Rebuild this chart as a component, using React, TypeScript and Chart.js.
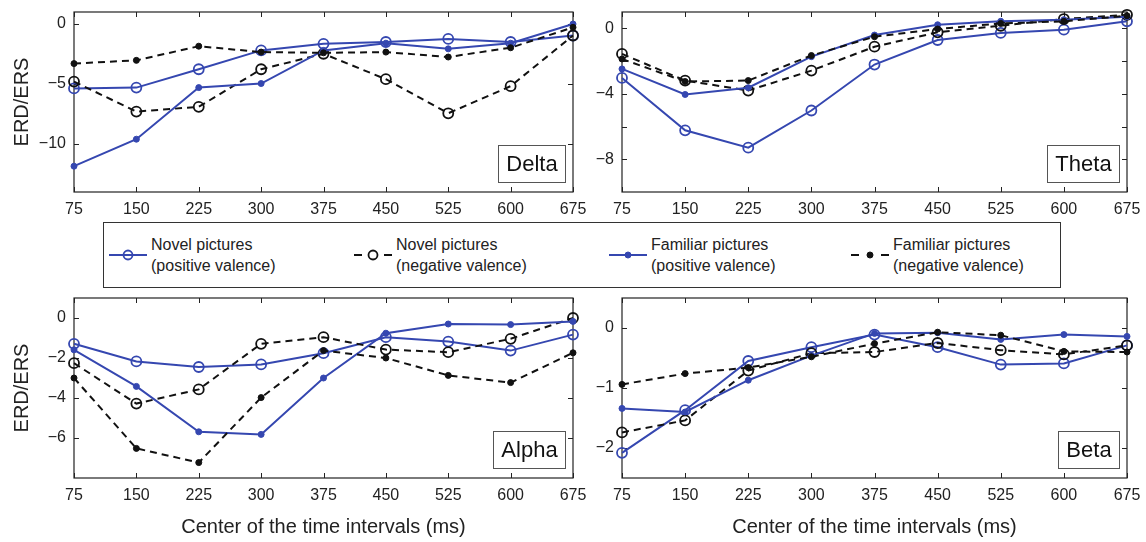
import React, { useEffect, useRef } from 'react';
import { Chart, registerables } from 'chart.js';

Chart.register(...registerables);

// ---------- data ----------
const intervals = ['75', '150', '225', '300', '375', '450', '525', '600', '675'];

const deltaNovelPos = [-5.37, -5.3, -3.77, -2.2, -1.65, -1.5, -1.24, -1.5, -0.96];
const deltaNovelNeg = [-4.8, -7.3, -6.9, -3.77, -2.48, -4.6, -7.44, -5.18, -0.96];
const deltaFamPos = [-11.85, -9.6, -5.3, -4.96, -2.2, -1.6, -2.07, -1.6, 0];
const deltaFamNeg = [-3.3, -3.03, -1.85, -2.34, -2.4, -2.34, -2.75, -1.98, -0.28];

const thetaNovelPos = [-3.03, -6.23, -7.29, -5.02, -2.21, -0.71, -0.28, -0.08, 0.43];
const thetaNovelNeg = [-1.56, -3.19, -3.8, -2.58, -1.12, -0.24, 0.16, 0.57, 0.83];
const thetaFamPos = [-2.48, -4.04, -3.63, -1.73, -0.41, 0.22, 0.43, 0.53, 0.71];
const thetaFamNeg = [-1.87, -3.25, -3.19, -1.66, -0.51, -0.04, 0.3, 0.43, 0.77];

const alphaNovelPos = [-1.29, -2.17, -2.45, -2.32, -1.76, -0.96, -1.18, -1.63, -0.83];
const alphaNovelNeg = [-2.26, -4.28, -3.57, -1.29, -0.96, -1.58, -1.71, -1.04, 0];
const alphaFamPos = [-1.59, -3.42, -5.69, -5.82, -3.0, -0.76, -0.3, -0.33, -0.17];
const alphaFamNeg = [-3.0, -6.52, -7.23, -3.98, -1.63, -2.0, -2.87, -3.23, -1.74];

const betaNovelPos = [-2.08, -1.37, -0.55, -0.32, -0.11, -0.32, -0.61, -0.59, -0.29];
const betaNovelNeg = [-1.74, -1.54, -0.71, -0.42, -0.4, -0.25, -0.37, -0.44, -0.29];
const betaFamPos = [-1.34, -1.4, -0.87, -0.46, -0.09, -0.08, -0.19, -0.11, -0.14];
const betaFamNeg = [-0.94, -0.76, -0.66, -0.48, -0.26, -0.07, -0.12, -0.39, -0.4];

const deltaTicks = [-10, -5, 0];
const deltaLabeled = [-10, -5, 0];
const thetaTicks = [-8, -6, -4, -2, 0];
const thetaLabeled = [-8, -4, 0];
const alphaTicks = [-6, -4, -2, 0];
const alphaLabeled = [-6, -4, -2, 0];
const betaTicks = [-2, -1, 0];
const betaLabeled = [-2, -1, 0];

const seriesNames = [
  ['Novel pictures', '(positive valence)'],
  ['Novel pictures', '(negative valence)'],
  ['Familiar pictures', '(positive valence)'],
  ['Familiar pictures', '(negative valence)'],
];

const xTitleText = 'Center of the time intervals (ms)';
const yTitleText = 'ERD/ERS';

// ---------- style ----------
const FONT = '"Liberation Sans", Arial, Helvetica, sans-serif';
const BLUE = '#3547b0';
const BLACK = '#111111';
const TEXT = '#222222';

Chart.defaults.font.family = FONT;

const seriesStyles = [
  { color: BLUE, dash: [] as number[], radius: 5, filled: false },
  { color: BLACK, dash: [7, 5], radius: 5, filled: false },
  { color: BLUE, dash: [] as number[], radius: 3, filled: true },
  { color: BLACK, dash: [7, 5], radius: 3, filled: true },
];

const framePlugin = {
  id: 'frame',
  beforeDatasetsDraw(chart: any) {
    const { ctx, chartArea: a, scales } = chart;
    ctx.save();
    ctx.strokeStyle = TEXT;
    ctx.lineWidth = 1.2;
    ctx.strokeRect(a.left, a.top, a.right - a.left, a.bottom - a.top);
    const tl = 5;
    ctx.beginPath();
    scales.y.ticks.forEach((t: any) => {
      const py = Math.round(scales.y.getPixelForValue(t.value)) + 0.5;
      ctx.moveTo(a.left, py);
      ctx.lineTo(a.left + tl, py);
      ctx.moveTo(a.right, py);
      ctx.lineTo(a.right - tl, py);
    });
    scales.x.ticks.forEach((_t: any, i: number) => {
      const px = Math.round(scales.x.getPixelForTick(i)) + 0.5;
      ctx.moveTo(px, a.bottom);
      ctx.lineTo(px, a.bottom - tl);
      ctx.moveTo(px, a.top);
      ctx.lineTo(px, a.top + tl);
    });
    ctx.lineWidth = 1;
    ctx.stroke();
    ctx.restore();
  },
  afterDatasetsDraw(chart: any, _args: any, opts: any) {
    const label = opts && opts.label;
    if (!label) return;
    const { ctx, chartArea: a } = chart;
    ctx.save();
    ctx.font = `22px ${FONT}`;
    const tw = ctx.measureText(label).width;
    const bw = Math.round(tw + 16);
    const bh = 37;
    const bx = Math.round(a.right - 8 - bw) + 0.5;
    const by = Math.round(a.bottom - 10 - bh) + 0.5;
    ctx.fillStyle = '#ffffff';
    ctx.fillRect(bx, by, bw, bh);
    ctx.strokeStyle = '#555555';
    ctx.lineWidth = 1;
    ctx.strokeRect(bx, by, bw, bh);
    ctx.fillStyle = BLACK;
    ctx.textAlign = 'center';
    ctx.textBaseline = 'middle';
    ctx.fillText(label, bx + bw / 2, by + bh / 2 + 1);
    ctx.restore();
  },
};

const fmt = (v: number) => (v < 0 ? '\u2212' + String(-v) : String(v));

type PanelProps = {
  label: string;
  series: number[][];
  yMin: number;
  yMax: number;
  yTicks: number[];
  yLabeled: number[];
  left: number;
  top: number;
  width: number;
  height: number;
  showYTitle: boolean;
  showXTitle: boolean;
};

const AXIS_W = 74;
const PAD_T = 12;
const PAD_R = 24;

function Panel(p: PanelProps) {
  const ref = useRef<HTMLCanvasElement | null>(null);
  const xH = p.showXTitle ? 64 : 28;
  const cw = AXIS_W + p.width + PAD_R;
  const ch = PAD_T + p.height + xH;

  useEffect(() => {
    if (!ref.current) return;
    const datasets = p.series.map((vals, i) => {
      const s = seriesStyles[i];
      return {
        label: seriesNames[i].join(' '),
        data: vals,
        borderColor: s.color,
        borderWidth: 2,
        borderDash: s.dash,
        pointRadius: s.radius,
        pointBorderWidth: s.filled ? 1 : 1.8,
        pointBackgroundColor: s.filled ? s.color : 'rgba(0,0,0,0)',
        pointBorderColor: s.color,
        pointStyle: 'circle',
        fill: false,
        tension: 0,
        clip: false as any,
        order: 4 - i,
      };
    });
    const chart = new Chart(ref.current, {
      type: 'line',
      data: { labels: intervals, datasets },
      options: {
        responsive: false,
        animation: false,
        devicePixelRatio: 1,
        layout: { padding: { left: 0, top: PAD_T, right: PAD_R, bottom: 0 } },
        plugins: {
          legend: { display: false },
          tooltip: { enabled: false },
          frame: { label: p.label },
        } as any,
        scales: {
          x: {
            type: 'category',
            offset: false,
            grid: { display: false, drawTicks: false },
            border: { display: false },
            ticks: {
              color: TEXT,
              font: { size: 16, family: FONT },
              padding: 8,
              maxRotation: 0,
              autoSkip: false,
            },
            title: {
              display: p.showXTitle,
              text: xTitleText,
              color: TEXT,
              font: { size: 20, family: FONT },
              padding: { top: 0, bottom: 3 },
            },
            afterFit: (s: any) => {
              s.height = xH;
              s.paddingLeft = 0;
              s.paddingRight = 0;
            },
          },
          y: {
            type: 'linear',
            min: p.yMin,
            max: p.yMax,
            grid: { display: false, drawTicks: false },
            border: { display: false },
            ticks: {
              color: TEXT,
              font: { size: 16, family: FONT },
              padding: 8,
              callback: (v: any) => (p.yLabeled.includes(Number(v)) ? fmt(Number(v)) : ''),
            },
            afterBuildTicks: (s: any) => {
              s.ticks = p.yTicks.map((v) => ({ value: v }));
            },
            title: {
              display: p.showYTitle,
              text: yTitleText,
              color: TEXT,
              font: { size: 20, family: FONT },
              padding: { top: 10, bottom: 0 },
            },
            afterFit: (s: any) => {
              s.width = AXIS_W;
              s.paddingTop = 0;
              s.paddingBottom = 0;
            },
          },
        },
      } as any,
      plugins: [framePlugin as any],
    });
    return () => chart.destroy();
  }, []);

  return (
    <canvas
      ref={ref}
      width={cw}
      height={ch}
      style={{
        position: 'absolute',
        left: p.left - AXIS_W,
        top: p.top - PAD_T,
        width: cw,
        height: ch,
      }}
    />
  );
}

function LegendSample({ idx }: { idx: number }) {
  const s = seriesStyles[idx];
  const w = 38;
  const h = 14;
  const cy = h / 2;
  return (
    <svg width={w} height={h} style={{ position: 'absolute', left: -42, top: 14 }}>
      <line
        x1={0}
        y1={cy}
        x2={w}
        y2={cy}
        stroke={s.color}
        strokeWidth={2}
        strokeDasharray={s.dash.length ? '8 22' : undefined}
      />
      <circle
        cx={w / 2}
        cy={cy}
        r={s.filled ? 3 : 4.5}
        fill={s.filled ? s.color : 'none'}
        stroke={s.color}
        strokeWidth={s.filled ? 1 : 1.8}
      />
    </svg>
  );
}

const legendTextLeft = [47, 292, 547, 789];

function Legend() {
  return (
    <div
      style={{
        position: 'absolute',
        left: 103,
        top: 222,
        width: 956,
        height: 64,
        border: '1px solid #333',
        background: '#fff',
        boxSizing: 'content-box',
      }}
    >
      {seriesNames.map((n, i) => (
        <div
          key={i}
          style={{
            position: 'absolute',
            left: legendTextLeft[i],
            top: 11,
            fontFamily: FONT,
            fontSize: 16,
            lineHeight: '21px',
            color: TEXT,
            whiteSpace: 'nowrap',
          }}
        >
          <LegendSample idx={i} />
          <div>{n[0]}</div>
          <div>{n[1]}</div>
        </div>
      ))}
    </div>
  );
}

export default function App() {
  return (
    <div
      style={{
        position: 'absolute',
        left: 0,
        top: 0,
        width: 1146,
        height: 542,
        background: '#fff',
        overflow: 'hidden',
      }}
    >
      <Panel
        label="Delta"
        series={[deltaNovelPos, deltaNovelNeg, deltaFamPos, deltaFamNeg]}
        yMin={-14}
        yMax={1}
        yTicks={deltaTicks}
        yLabeled={deltaLabeled}
        left={74}
        top={12}
        width={499}
        height={180}
        showYTitle={true}
        showXTitle={false}
      />
      <Panel
        label="Theta"
        series={[thetaNovelPos, thetaNovelNeg, thetaFamPos, thetaFamNeg]}
        yMin={-10}
        yMax={1}
        yTicks={thetaTicks}
        yLabeled={thetaLabeled}
        left={622}
        top={12}
        width={505}
        height={180}
        showYTitle={false}
        showXTitle={false}
      />
      <Panel
        label="Alpha"
        series={[alphaNovelPos, alphaNovelNeg, alphaFamPos, alphaFamNeg]}
        yMin={-8}
        yMax={1}
        yTicks={alphaTicks}
        yLabeled={alphaLabeled}
        left={74}
        top={298}
        width={499}
        height={180}
        showYTitle={true}
        showXTitle={true}
      />
      <Panel
        label="Beta"
        series={[betaNovelPos, betaNovelNeg, betaFamPos, betaFamNeg]}
        yMin={-2.5}
        yMax={0.5}
        yTicks={betaTicks}
        yLabeled={betaLabeled}
        left={622}
        top={298}
        width={505}
        height={180}
        showYTitle={false}
        showXTitle={true}
      />
      <Legend />
    </div>
  );
}
